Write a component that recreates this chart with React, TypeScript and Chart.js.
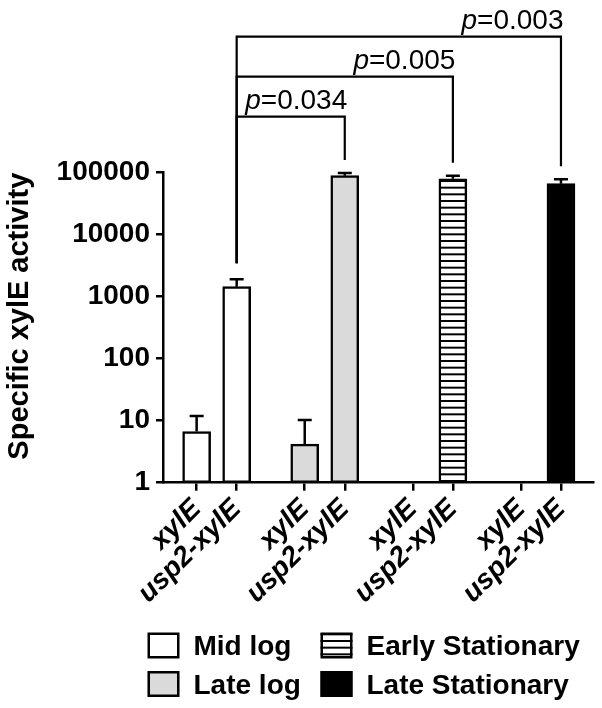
import React, { useEffect, useRef } from 'react';
import { Chart, registerables } from 'chart.js';

Chart.register(...registerables);

// ---------- data ----------
const phases = ['Mid log', 'Late log', 'Early Stationary', 'Late Stationary'];
const strains = ['xylE', 'usp2-xylE'];
const xylEValues: (number | null)[] = [6.7, 4.2, null, null];
const xylEErrors: (number | null)[] = [5.2, 6.1, null, null];
const usp2Values: (number | null)[] = [1450, 89500, 80000, 66500];
const usp2Errors: (number | null)[] = [460, 9400, 9500, 11800];
const yTickValues = [1, 10, 100, 1000, 10000, 100000];
// comparisons: usp2-xylE Mid log vs usp2-xylE of another phase
const compareTo = [1, 2, 3];
const pValues = ['0.034', '0.005', '0.003'];

// ---------- layout constants ----------
const FONT = "'Liberation Sans', Arial, Helvetica, sans-serif";
const GROUP_STEP = 2.7;
const pos = (g: number, i: number) => g * GROUP_STEP + i;

function makeStripePattern(ctx: CanvasRenderingContext2D) {
  const c = document.createElement('canvas');
  c.width = 8;
  c.height = 20;
  const g = c.getContext('2d')!;
  g.fillStyle = '#ffffff';
  g.fillRect(0, 0, 8, 20);
  g.fillStyle = '#000000';
  for (let k = 0; k < 3; k++) g.fillRect(0, (k * 20) / 3, 8, 2);
  return ctx.createPattern(c, 'repeat')!;
}

export default function App() {
  const ref = useRef<HTMLCanvasElement>(null);

  useEffect(() => {
    const canvas = ref.current!;
    const ctx = canvas.getContext('2d')!;
    const stripe = makeStripePattern(ctx);
    const fills: any[] = ['#ffffff', '#dadada', stripe, '#000000'];

    const tickPositions: number[] = [];
    const tickLabels: string[] = [];
    phases.forEach((_, g) => {
      strains.forEach((s, i) => {
        tickPositions.push(pos(g, i));
        tickLabels.push(s);
      });
    });

    const datasets = phases.map((phase, g) => ({
      label: phase,
      data: [
        { x: pos(g, 0), y: xylEValues[g] },
        { x: pos(g, 1), y: usp2Values[g] },
      ],
      errors: [xylEErrors[g], usp2Errors[g]],
      backgroundColor: fills[g],
      borderColor: '#000000',
      borderWidth: 2.5,
      borderSkipped: false as any,
      barThickness: 28,
      grouped: false,
    }));

    const errorBars = {
      id: 'errorBars',
      afterDatasetsDraw(chart: any) {
        const c = chart.ctx;
        const yScale = chart.scales.y;
        c.save();
        c.strokeStyle = '#000';
        c.lineWidth = 2.5;
        chart.data.datasets.forEach((ds: any, d: number) => {
          const meta = chart.getDatasetMeta(d);
          ds.data.forEach((pt: any, i: number) => {
            const err = ds.errors[i];
            if (pt.y == null || err == null) return;
            const el = meta.data[i];
            const top = yScale.getPixelForValue(pt.y + err);
            c.beginPath();
            c.moveTo(el.x, el.y);
            c.lineTo(el.x, top);
            c.moveTo(el.x - 7, top);
            c.lineTo(el.x + 7, top);
            c.stroke();
          });
        });
        c.restore();
      },
    };

    const brackets = {
      id: 'brackets',
      afterDatasetsDraw(chart: any) {
        const c = chart.ctx;
        const yScale = chart.scales.y;
        const area = chart.chartArea;
        const fromMeta = chart.getDatasetMeta(0).data[1];
        const fromTop = yScale.getPixelForValue((usp2Values[0] as number) + (usp2Errors[0] as number));
        c.save();
        c.strokeStyle = '#000';
        c.fillStyle = '#000';
        c.lineWidth = 2.2;
        compareTo.forEach((g, k) => {
          const lvl = area.top - 56 - 40 * k;
          const toEl = chart.getDatasetMeta(g).data[1];
          const toTop = yScale.getPixelForValue((usp2Values[g] as number) + (usp2Errors[g] as number));
          c.beginPath();
          c.moveTo(fromMeta.x, fromTop - 16);
          c.lineTo(fromMeta.x, lvl);
          c.lineTo(toEl.x, lvl);
          c.lineTo(toEl.x, toTop - 13);
          c.stroke();
          const rest = '=' + pValues[k];
          c.font = `28px ${FONT}`;
          const wRest = c.measureText(rest).width;
          c.font = `italic 28px ${FONT}`;
          const wP = c.measureText('p').width;
          const right = toEl.x + 2.5;
          const base = lvl - 7.5;
          c.textAlign = 'left';
          c.textBaseline = 'alphabetic';
          c.fillText('p', right - wRest - wP, base);
          c.font = `28px ${FONT}`;
          c.fillText(rest, right - wRest, base);
        });
        c.restore();
      },
    };

    const legendBoxes = {
      id: 'legendBoxes',
      afterDraw(chart: any) {
        const c = chart.ctx;
        const cols = [147.5, 320.5];
        const rows = [632.5, 671];
        c.save();
        c.font = `bold 28px ${FONT}`;
        c.textAlign = 'left';
        c.textBaseline = 'alphabetic';
        chart.data.datasets.forEach((ds: any, d: number) => {
          const col = d < 2 ? 0 : 1;
          const row = d % 2;
          const x = cols[col];
          const y = rows[row];
          c.fillStyle = ds.backgroundColor;
          c.fillRect(x, y, 32, 26);
          c.strokeStyle = '#000';
          c.lineWidth = 2.5;
          c.strokeRect(x + 1.25, y + 1.25, 29.5, 23.5);
          c.fillStyle = '#000';
          c.fillText(ds.label, x + 46, y + 22.5);
        });
        c.restore();
      },
    };

    const chart = new Chart(canvas, {
      type: 'bar',
      data: { datasets: datasets as any },
      options: {
        responsive: false,
        devicePixelRatio: 1,
        animation: false,
        layout: { padding: { top: 172.7, right: 9, bottom: 0, left: 0 } },
        plugins: {
          legend: { display: false },
          tooltip: { enabled: false },
        },
        scales: {
          x: {
            type: 'linear',
            position: 'bottom',
            offset: false,
            min: -0.84,
            max: 9.9,
            afterBuildTicks: (s: any) => {
              s.ticks = tickPositions.map((v) => ({ value: v }));
            },
            afterFit: (s: any) => {
              s.height = 225.3;
            },
            grid: {
              offset: false,
              drawOnChartArea: false,
              drawTicks: true,
              tickLength: 8,
              color: '#000',
              lineWidth: 2.5,
            },
            border: { display: true, color: '#000', width: 2.5 },
            ticks: {
              autoSkip: false,
              minRotation: 45,
              maxRotation: 45,
              padding: 2,
              color: '#000',
              font: { family: FONT, size: 28, weight: 'bold', style: 'italic' },
              callback: (_v: any, i: number) => tickLabels[i],
            },
          },
          y: {
            type: 'logarithmic',
            min: 1,
            max: 100000,
            afterBuildTicks: (s: any) => {
              s.ticks = yTickValues.map((v) => ({ value: v }));
            },
            afterFit: (s: any) => {
              s.width = 163;
            },
            grid: {
              drawOnChartArea: false,
              drawTicks: true,
              tickLength: 7,
              color: '#000',
              lineWidth: 2.5,
            },
            border: { display: true, color: '#000', width: 2.5 },
            ticks: {
              padding: 6,
              color: '#000',
              font: { family: FONT, size: 28, weight: 'bold' },
              callback: (v: any) => String(v),
            },
            title: {
              display: true,
              text: 'Specific xylE activity',
              align: 'end',
              color: '#000',
              font: { family: FONT, size: 29, weight: 'bold' },
              padding: { top: 3, bottom: 0 },
            },
          },
        },
      } as any,
      plugins: [errorBars, brackets, legendBoxes],
    });

    return () => chart.destroy();
  }, []);

  return (
    <div style={{ position: 'fixed', left: 0, top: 0, width: 602, height: 708, background: '#fff' }}>
      <canvas ref={ref} width={602} height={708} style={{ display: 'block', width: 602, height: 708 }} />
    </div>
  );
}
